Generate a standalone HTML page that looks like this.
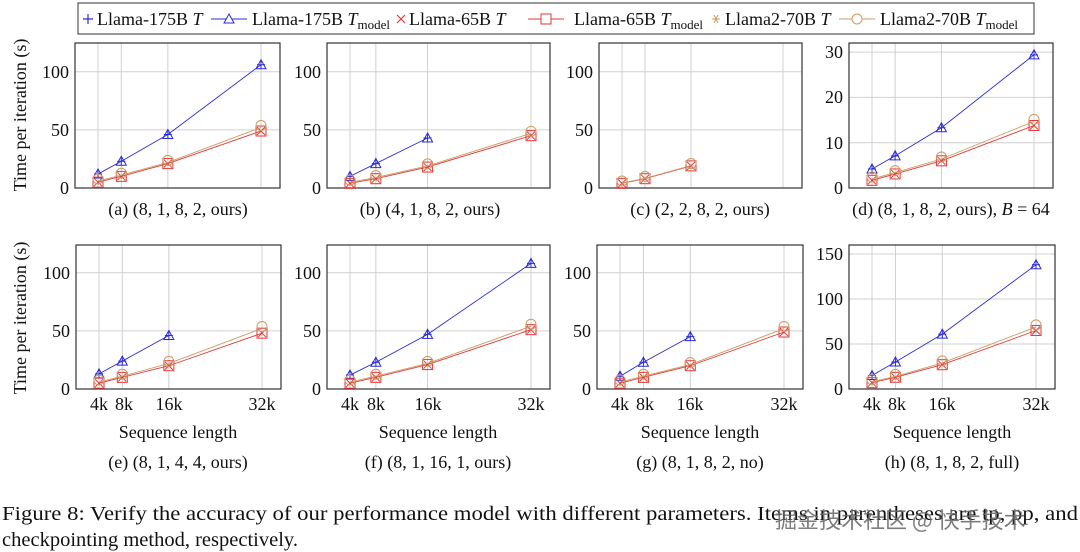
<!DOCTYPE html>
<html><head><meta charset="utf-8"><style>
html,body{margin:0;padding:0;background:#fff;}
svg{display:block;font-family:"Liberation Serif","Noto Serif CJK SC",serif;}
</style></head><body>
<svg id="s" width="1080" height="552" viewBox="0 0 1080 552" xmlns="http://www.w3.org/2000/svg">
<g id="plots"></g>
<rect x="78" y="3" width="956" height="31" fill="none" stroke="#333" stroke-width="1"/>
<g font-size="18" fill="#111">
<text x="97" y="25">Llama-175B <tspan font-style="italic">T</tspan></text>
<text x="252" y="25">Llama-175B <tspan font-style="italic">T</tspan><tspan font-size="13" dy="4">model</tspan></text>
<text x="409" y="25">Llama-65B <tspan font-style="italic">T</tspan></text>
<text x="574" y="25">Llama-65B <tspan font-style="italic">T</tspan><tspan font-size="13" dy="4">model</tspan></text>
<text x="725" y="25">Llama2-70B <tspan font-style="italic">T</tspan></text>
<text x="880" y="25">Llama2-70B <tspan font-style="italic">T</tspan><tspan font-size="13" dy="4">model</tspan></text>
</g>
<g font-size="18" fill="#111" text-anchor="end">
<text x="69" y="194">0</text><text x="69" y="136">50</text><text x="69" y="78">100</text>
<text x="321" y="194">0</text><text x="321" y="136">50</text><text x="321" y="78">100</text>
<text x="593" y="194">0</text><text x="593" y="136">50</text><text x="593" y="78">100</text>
<text x="843" y="194">0</text><text x="843" y="149">10</text><text x="843" y="103">20</text><text x="843" y="58">30</text>
<text x="70" y="395">0</text><text x="70" y="337">50</text><text x="70" y="279">100</text>
<text x="321" y="395">0</text><text x="321" y="337">50</text><text x="321" y="279">100</text>
<text x="591" y="395">0</text><text x="591" y="337">50</text><text x="591" y="279">100</text>
<text x="843" y="395">0</text><text x="843" y="350">50</text><text x="843" y="305">100</text><text x="843" y="260">150</text>
</g>
<g font-size="18" fill="#111" text-anchor="middle">
<text x="99" y="410">4k</text><text x="124" y="410">8k</text><text x="169" y="410">16k</text><text x="262" y="410">32k</text>
<text x="350" y="410">4k</text><text x="376" y="410">8k</text><text x="428" y="410">16k</text><text x="531" y="410">32k</text>
<text x="620" y="410">4k</text><text x="645" y="410">8k</text><text x="690" y="410">16k</text><text x="784" y="410">32k</text>
<text x="872" y="410">4k</text><text x="897" y="410">8k</text><text x="942" y="410">16k</text><text x="1036" y="410">32k</text>
<text x="178" y="438">Sequence length</text><text x="438" y="438">Sequence length</text>
<text x="700" y="438">Sequence length</text><text x="952" y="438">Sequence length</text>
<text x="178" y="215">(a) (8, 1, 8, 2, ours)</text>
<text x="430" y="215">(b) (4, 1, 8, 2, ours)</text>
<text x="700" y="215">(c) (2, 2, 8, 2, ours)</text>
<text x="951" y="215">(d) (8, 1, 8, 2, ours), <tspan font-style="italic">B</tspan> = 64</text>
<text x="178" y="468">(e) (8, 1, 4, 4, ours)</text>
<text x="438" y="468">(f) (8, 1, 16, 1, ours)</text>
<text x="700" y="468">(g) (8, 1, 8, 2, no)</text>
<text x="952" y="468">(h) (8, 1, 8, 2, full)</text>
<text transform="translate(26,115) rotate(-90)">Time per iteration (s)</text>
<text transform="translate(26,318) rotate(-90)">Time per iteration (s)</text>
</g>
<g font-size="20.5" fill="#111">
<text x="2" y="520" textLength="1076" lengthAdjust="spacingAndGlyphs">Figure 8: Verify the accuracy of our performance model with different parameters. Items in parentheses are tp, pp, and</text>
<text x="2" y="546" textLength="296" lengthAdjust="spacingAndGlyphs">checkpointing method, respectively.</text>
</g>
<text x="775" y="528" font-size="22" fill="#666" fill-opacity="0.85" font-family="'Noto Sans CJK SC',sans-serif">掘金技术社区 @ 快手技术</text>
</svg>
<script>
const NS="http://www.w3.org/2000/svg";
const g=document.getElementById('plots');
function el(t,a){const e=document.createElementNS(NS,t);for(const k in a)e.setAttribute(k,a[k]);g.appendChild(e);return e;}
const B="#2b2bd6",R="#e03a3a",O="#cf9b62";
const P=[
{x0:75,x1:280,yt:43,yb:188,s:1.163,t:[0,50,100],d:[[12,23,46,106],[5,10,21,49],[6,11,22,52]]},
{x0:327,x1:550,yt:43,yb:188,s:1.163,t:[0,50,100],d:[[10,21,43],[4,8,18,45],[5,9,19,47]]},
{x0:599,x1:802,yt:43,yb:188,s:1.163,t:[0,50,100],d:[[],[4,8,19],[4.3,8.3,19.3]]},
{x0:849,x1:1053,yt:43,yb:188,s:4.53,t:[0,10,20,30],d:[[4.2,7.1,13.3,29.4],[1.7,3.1,6,13.8],[2,3.4,6.4,14.7]]},
{x0:76,x1:281,yt:245,yb:389,s:1.163,t:[0,50,100],d:[[13,24,46],[5,10,20,48],[6,11,22,52]]},
{x0:327,x1:550,yt:245,yb:389,s:1.163,t:[0,50,100],d:[[12,23,47,108],[5,10,21,51],[6,11,22,54]]},
{x0:597,x1:803,yt:245,yb:389,s:1.163,t:[0,50,100],d:[[11,23,45],[5,10,20,49],[6,11,21,52]]},
{x0:849,x1:1055,yt:245,yb:389,s:0.9,t:[0,50,100,150],d:[[15,30,61,138],[7,13,27,65],[8,14,29,69]]}];
const ks=[4,8,16,32];
for(const p of P){
  const a=p.x0+23,b=p.x1-19,X=k=>a+(b-a)*(k-4)/28,Y=v=>p.yb-v*p.s;
  for(const k of ks)el('line',{x1:X(k),x2:X(k),y1:p.yt,y2:p.yb,stroke:'#d0d0d0','stroke-width':1});
  for(const t of p.t)el('line',{x1:p.x0,x2:p.x1,y1:Y(t),y2:Y(t),stroke:'#d0d0d0','stroke-width':1});
  el('rect',{x:p.x0,y:p.yt,width:p.x1-p.x0,height:p.yb-p.yt,fill:'none',stroke:'#333','stroke-width':1.2});
  const cols=[B,R,O];
  p.d.forEach((arr,i)=>{
    if(!arr.length)return;
    const c=cols[i];
    const pts=arr.map((v,j)=>[X(ks[j]),Y(v)]);
    el('polyline',{points:pts.map(q=>q.join(',')).join(' '),fill:'none',stroke:c,'stroke-width':0.9});
    for(const [x,y] of pts){
      if(i==0){el('path',{d:`M${x-5},${y+4}L${x+5},${y+4}L${x},${y-5}Z`,fill:'none',stroke:c,'stroke-width':1});
        el('path',{d:`M${x-4},${y}H${x+4}M${x},${y-4}V${y+4}`,stroke:c,'stroke-width':1});}
      else if(i==1){el('rect',{x:x-5,y:y-5,width:10,height:10,fill:'none',stroke:c,'stroke-width':1});
        el('path',{d:`M${x-4},${y-4}L${x+4},${y+4}M${x-4},${y+4}L${x+4},${y-4}`,stroke:c,'stroke-width':1});}
      else{el('circle',{cx:x,cy:y-2,r:5,fill:'none',stroke:c,'stroke-width':1});}
    }
  });
}
const L=[[88,B,'plus'],[229,B,'tri'],[401,R,'x'],[546,R,'sq'],[716,O,'star'],[857,O,'circ']];
for(const [x,c,m] of L){const y=19;
  if(m=='tri'||m=='sq'||m=='circ')el('line',{x1:x-18,x2:x+18,y1:y,y2:y,stroke:c,'stroke-width':1});
  if(m=='plus')el('path',{d:`M${x-5},${y}H${x+5}M${x},${y-5}V${y+5}`,stroke:c,'stroke-width':1.2});
  if(m=='tri')el('path',{d:`M${x-5},${y+4}L${x+5},${y+4}L${x},${y-5}Z`,fill:'#fff',stroke:c});
  if(m=='x')el('path',{d:`M${x-4},${y-4}L${x+4},${y+4}M${x-4},${y+4}L${x+4},${y-4}`,stroke:c,'stroke-width':1.2});
  if(m=='sq')el('rect',{x:x-5,y:y-5,width:10,height:10,fill:'#fff',stroke:c});
  if(m=='star')el('path',{d:`M${x-4},${y}H${x+4}M${x-2},${y-4}L${x+2},${y+4}M${x+2},${y-4}L${x-2},${y+4}`,stroke:c,'stroke-width':1});
  if(m=='circ')el('circle',{cx:x,cy:y,r:5,fill:'#fff',stroke:c});
}
</script>
</body></html>
